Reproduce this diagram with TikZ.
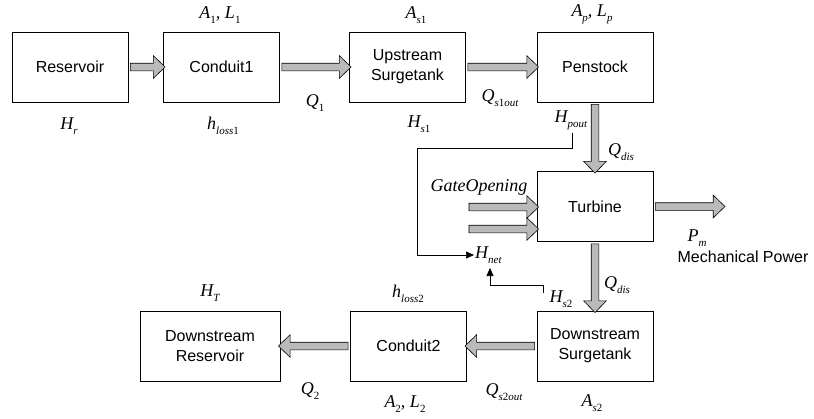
\documentclass[tikz,border=0pt]{standalone}
\usepackage{fontspec}
\setmainfont{Liberation Sans}
\newfontfamily\eqfont{Liberation Serif}
\usepackage{tikz}
\usetikzlibrary{calc,shapes.arrows,arrows.meta}
\def\fatarrow(#1)(#2){\path let \p1=(#1), \p2=(#2), \n1={veclen(\x2-\x1,\y2-\y1)}, \n2={atan2(\y2-\y1,\x2-\x1)} in node[fatarr, minimum height=\n1, rotate=\n2] at ($(\p1)!0.5!(\p2)$) {};}
\newcommand{\vsub}[2]{#1\raisebox{-5pt}{\fontsize{11}{11}\selectfont #2}}

\begin{document}
\begin{tikzpicture}[x=1pt, y={(0pt,-1pt)},
	blk/.style={draw, line width=0.8pt, minimum width=116pt, minimum height=70pt, inner sep=0pt, align=center, font=\fontsize{16}{20}\selectfont},
	fatarr/.style={single arrow, draw, fill=black!27, line width=0.6pt, inner xsep=0pt, inner ysep=3.5pt, single arrow head extend=7.5pt, single arrow tip angle=88, single arrow head indent=0pt},
	eq/.style={inner sep=1pt, font=\eqfont\fontsize{18}{20}\selectfont\itshape},
	sig/.style={line width=0.6pt, -{Triangle[length=8pt, width=7pt]}}]
			%%%%% START %%%%%
			\useasboundingbox (0, 0) rectangle (814, 418);
			
			\node[blk] (res) at (70, 67) {Reservoir};
			\node[blk] (con1) at (221.5, 67) {Conduit1};
			\node[blk] (ust) at (407.5, 67) {Upstream\\Surgetank};
			\node[blk] (pen) at (595, 67) {Penstock};
			\node[blk] (tur) at (595, 206.5) {Turbine};
			\node[blk] (dst) at (595, 346) {Downstream\\Surgetank};
			\node[blk] (con2) at (408.5, 346) {Conduit2};
			\node[blk, minimum width=140pt] (dres) at (210, 346) {Downstream\\Reservoir};
			
			\fatarrow(res.east)(con1.west)
			\fatarrow(con1.east)(ust.west)
			\fatarrow(ust.east)(pen.west)
			\fatarrow(pen.south)(tur.north)
			\fatarrow(tur.south)(dst.north)
			\fatarrow(dst.west)(con2.east)
			\fatarrow(con2.west)(dres.east)
			
			\coordinate (gate1) at (467, 207);
			\coordinate (gate2) at (467, 229);
			\coordinate (pout) at (723, 206.5);
			\fatarrow(gate1)(tur.west |- gate1)
			\fatarrow(gate2)(tur.west |- gate2)
			\fatarrow(tur.east)(pout)
			
			\node[eq] (a1) at (220, 15) {\vsub{A}{\upshape 1}, \vsub{L}{\upshape 1}};
			\node[eq] (hr) at (69, 126) {\vsub{H}{r}};
			\node[eq] (hl1) at (223, 126) {\vsub{h}{loss\upshape 1}};
			\node[eq] (q1) at (315, 103) {\vsub{Q}{\upshape 1}};
			\node[eq] (as1) at (416, 15) {\vsub{A}{s\upshape 1}};
			\node[eq] (qs1) at (500, 98) {\vsub{Q}{s\upshape 1\itshape out}};
			\node[eq] (hs1) at (419, 124) {\vsub{H}{s\upshape 1}};
			\node[eq] (ap) at (592, 14) {\vsub{A}{p}, \vsub{L}{p}};
			\node[eq] (hpo) at (571, 120) {\vsub{H}{pout}};
			\node[eq] (qd1) at (621, 152) {\vsub{Q}{dis}};
			\node[eq] (gate) at (479, 187) {GateOpening};
			\node[eq, anchor=west] (net) at (474, 255) {\vsub{H}{net}};
			\node[eq] (pm) at (697, 238) {\vsub{P}{m}};
			\node[inner sep=1pt, font=\fontsize{16}{20}\selectfont] (mech) at (743, 257) {Mechanical Power};
			\node[eq] (qd2) at (617, 285) {\vsub{Q}{dis}};
			\node[eq] (hs2) at (561, 299) {\vsub{H}{s\upshape 2}};
			\node[eq] (ht) at (210, 293) {\vsub{H}{T}};
			\node[eq] (hl2) at (408, 294) {\vsub{h}{loss\upshape 2}};
			\node[eq] (q2) at (310, 391) {\vsub{Q}{\upshape 2}};
			\node[eq] (qs2) at (504, 392) {\vsub{Q}{s\upshape 2\itshape out}};
			\node[eq] (a2) at (405, 404) {\vsub{A}{\upshape 2}, \vsub{L}{\upshape 2}};
			\node[eq] (as2) at (592, 403) {\vsub{A}{s\upshape 2}};
			
			\coordinate (fb1) at (572, 133);
			\coordinate (fbl) at (417, 148);
			\draw[sig] (fb1) |- (fbl) |- (net.west);
			
			\coordinate (fb2) at (543, 293);
			\coordinate (fb2b) at (543, 285);
			\coordinate (fbup) at (490, 268);
			\draw[sig] (fb2) -- (fb2b) -| (fbup);
			
			%%%%% END %%%%%
		\end{tikzpicture}
\end{document}
